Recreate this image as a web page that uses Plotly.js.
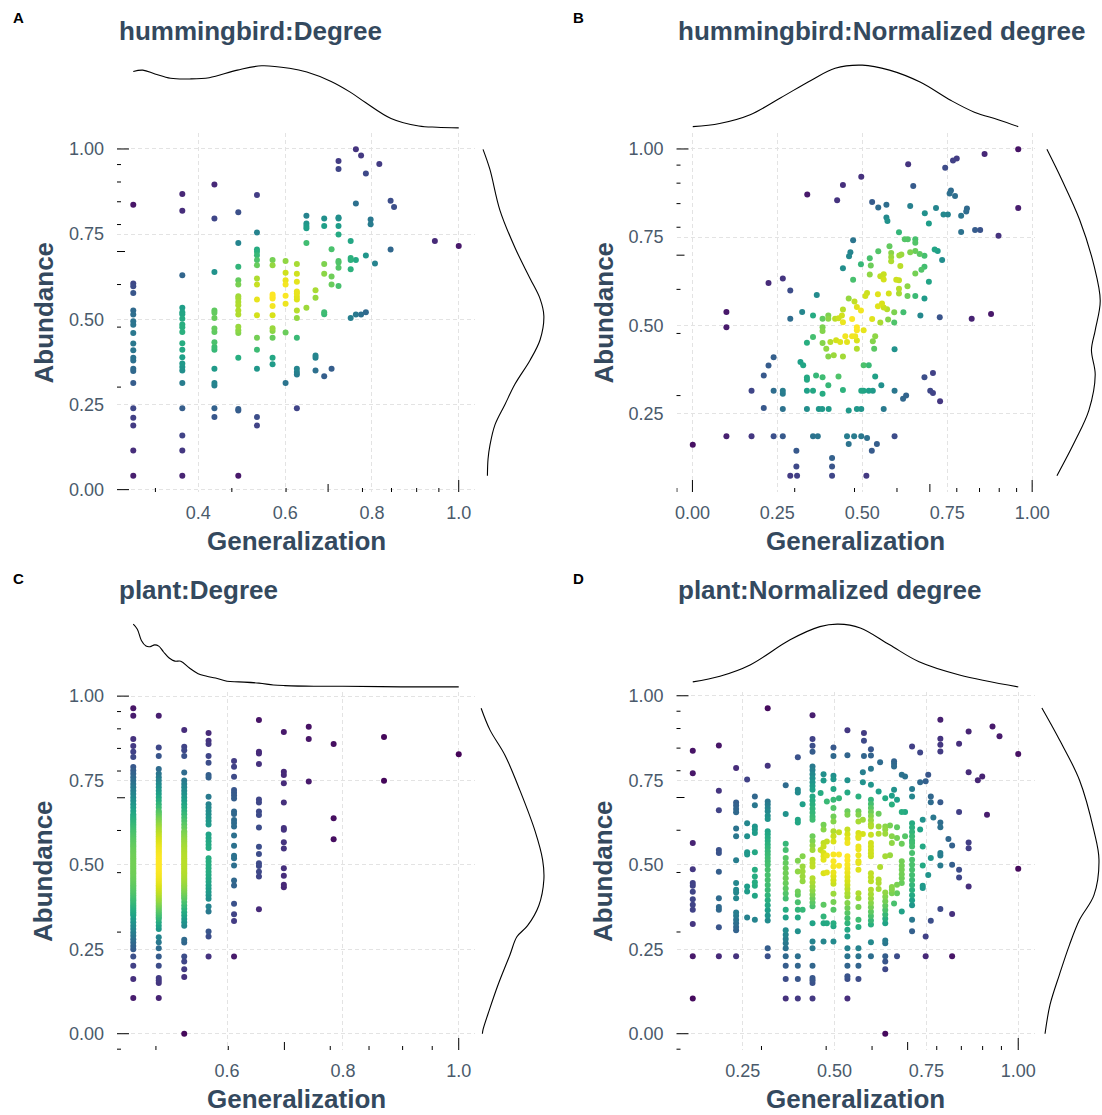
<!DOCTYPE html>
<html><head><meta charset="utf-8">
<script src="https://cdn.plot.ly/plotly-3.0.1.min.js"></script>
<style>body{margin:0;background:#fff;}</style>
</head><body><div id="chart" style="width:1102px;height:1115px;"></div>
<script>
// ---------------- DATA ----------------
// Panel A: hummingbird:Degree (columns of generalization values)
const hbDegX = [0.25,0.363,0.437,0.492,0.535,0.571,0.601,0.627,0.649,0.670,0.690,0.707,0.723,0.751,0.763,0.775,0.786,0.797,0.807,0.817,0.843,0.851,0.945,1.0];
const hbDegY = [
[0.836,0.605,0.597,0.577,0.526,0.514,0.494,0.484,0.46,0.429,0.409,0.387,0.379,0.355,0.348,0.313,0.239,0.211,0.188,0.115,0.041],
[0.868,0.819,0.629,0.534,0.521,0.515,0.502,0.485,0.477,0.463,0.43,0.411,0.389,0.37,0.36,0.35,0.313,0.239,0.159,0.115,0.041],
[0.896,0.796,0.639,0.526,0.519,0.504,0.473,0.463,0.433,0.419,0.411,0.355,0.313,0.306,0.239,0.213],
[0.814,0.724,0.654,0.615,0.602,0.568,0.561,0.551,0.541,0.526,0.514,0.478,0.468,0.46,0.387,0.237,0.232,0.041],
[0.865,0.755,0.705,0.698,0.688,0.674,0.659,0.62,0.602,0.558,0.512,0.446,0.411,0.355,0.213,0.188],
[0.674,0.659,0.573,0.566,0.561,0.539,0.512,0.474,0.466,0.446,0.387,0.368],
[0.671,0.637,0.615,0.602,0.569,0.546,0.461,0.313],
[0.662,0.634,0.61,0.582,0.576,0.566,0.558,0.526,0.504,0.446,0.355,0.345,0.338,0.239],
[0.804,0.781,0.774,0.767,0.724,0.534],
[0.585,0.563,0.394,0.387,0.35],
[0.796,0.774,0.662,0.634,0.521,0.515,0.333],
[0.706,0.626,0.602,0.355],
[0.965,0.941,0.799,0.796,0.774,0.749,0.671,0.667,0.651,0.598],
[0.73,0.68,0.674,0.647,0.504],
[0.999,0.84,0.674,0.514],
[0.981,0.514],
[0.928,0.687,0.521],
[0.793,0.779],
[0.664],
[0.956],
[0.848,0.705],
[0.83],
[0.73],
[0.715]
];

// Panel B: hummingbird:Normalized degree ([generalization, abundance])
const hbNormPts = [
[0.338,0.871],[0.443,0.898],[0.426,0.855],[0.497,0.921],[0.635,0.957],[0.65,0.895],[0.744,0.947],[0.767,0.967],[0.778,0.973],[0.86,0.986],[0.959,0.999],[0.959,0.833],
[0.529,0.85],[0.547,0.834],[0.571,0.842],[0.571,0.806],[0.574,0.796],[0.641,0.838],[0.684,0.818],[0.696,0.789],[0.717,0.833],[0.739,0.814],[0.752,0.814],[0.757,0.874],[0.761,0.882],[0.773,0.867],[0.791,0.811],[0.806,0.823],[0.808,0.831],[0.791,0.765],[0.832,0.77],[0.847,0.77],[0.901,0.754],
[0.608,0.764],[0.625,0.744],[0.634,0.744],[0.656,0.744],[0.656,0.734],[0.473,0.741],[0.465,0.707],[0.461,0.696],[0.443,0.662],[0.58,0.724],[0.547,0.71],[0.585,0.705],[0.585,0.694],[0.585,0.682],[0.609,0.698],[0.615,0.701],[0.641,0.707],[0.656,0.711],[0.669,0.702],[0.683,0.697],[0.713,0.715],[0.722,0.711],[0.735,0.685],[0.522,0.69],[0.525,0.67],[0.496,0.673],[0.612,0.668],
[0.473,0.629],[0.522,0.644],[0.553,0.639],[0.563,0.645],[0.563,0.63],[0.6,0.629],[0.608,0.628],[0.656,0.647],[0.674,0.658],[0.683,0.666],[0.696,0.624],[0.633,0.611],[0.608,0.604],[0.608,0.59],[0.633,0.583],[0.656,0.583],[0.683,0.576],[0.578,0.59],[0.546,0.588],[0.514,0.592],[0.509,0.583],[0.46,0.576],[0.477,0.568],[0.484,0.552],[0.496,0.542],[0.443,0.545],[0.546,0.554],[0.558,0.562],[0.563,0.551],[0.573,0.546],[0.594,0.537],[0.621,0.537],[0.529,0.518],[0.553,0.508],[0.576,0.517],[0.594,0.508],[0.47,0.518],[0.484,0.495],[0.504,0.486],[0.671,0.528],[0.728,0.523],[0.822,0.519],[0.879,0.532],
[0.224,0.62],[0.266,0.633],[0.288,0.599],[0.1,0.538],[0.1,0.495],[0.288,0.519],[0.323,0.538],[0.366,0.586],[0.355,0.528],[0.383,0.519],[0.4,0.528],[0.4,0.519],[0.42,0.519],[0.43,0.52],[0.44,0.528],[0.443,0.509],[0.383,0.495],[0.383,0.484],
[0.239,0.41],[0.224,0.386],[0.21,0.358],[0.174,0.315],[0.239,0.315],[0.266,0.315],[0.266,0.306],[0.21,0.266],[0.266,0.263],[0.318,0.396],[0.326,0.387],[0.337,0.451],[0.337,0.352],[0.337,0.346],[0.337,0.315],[0.355,0.315],[0.337,0.263],[0.355,0.467],[0.364,0.358],[0.372,0.263],[0.382,0.263],[0.401,0.263],[0.383,0.306],[0.383,0.353],[0.394,0.434],[0.4,0.33],[0.406,0.453],[0.423,0.458],[0.435,0.453],[0.4,0.412],[0.416,0.415],[0.443,0.412],[0.43,0.355],[0.443,0.317],[0.45,0.469],[0.455,0.453],[0.46,0.259],[0.383,0.45],
[0.174,0.186],[0.1,0.186],[0.239,0.186],[0.266,0.186],[0.001,0.162],[0.306,0.145],[0.306,0.1],[0.288,0.074],[0.308,0.074],[0.355,0.186],[0.369,0.186],[0.411,0.124],[0.411,0.1],[0.411,0.074],[0.455,0.186],[0.46,0.164],
[0.47,0.469],[0.479,0.469],[0.484,0.486],[0.484,0.457],[0.484,0.434],[0.504,0.387],[0.519,0.387],[0.497,0.315],[0.504,0.315],[0.519,0.315],[0.531,0.315],[0.484,0.263],[0.497,0.263],[0.538,0.355],[0.556,0.33],[0.538,0.469],[0.531,0.455],[0.535,0.434],[0.563,0.263],[0.595,0.315],[0.595,0.432],[0.62,0.292],[0.629,0.301],[0.683,0.353],[0.708,0.365],[0.7,0.315],[0.708,0.308],[0.729,0.285],[0.476,0.186],[0.497,0.186],[0.514,0.181],[0.528,0.145],[0.543,0.164],[0.595,0.186],[0.512,0.074]
];

// Panel C: plant:Degree (columns; dense centres hold many overlapping points)
const plDegX = [0.438,0.482,0.526,0.568,0.612,0.655,0.698,0.741,0.784,0.871,1.0];
const plDegY = [
[0.964,0.942,0.873,0.852,0.835,0.82,0.79,0.78,0.77,0.76,0.75,0.74,0.73,0.72,0.71,0.70,0.69,0.68,0.67,0.66,0.65,0.64,0.63,0.62,0.61,0.60,0.59,0.58,0.57,0.56,0.55,0.54,0.53,0.52,0.51,0.50,0.49,0.48,0.47,0.46,0.45,0.44,0.43,0.42,0.41,0.40,0.39,0.38,0.37,0.36,0.35,0.34,0.33,0.32,0.31,0.30,0.29,0.28,0.27,0.26,0.25,0.229,0.201,0.162,0.106,
 0.355,0.365,0.375,0.385,0.395,0.405,0.415,0.425,0.435,0.445,0.455,0.465,0.475,0.485,0.495,0.505,0.515,0.525,0.535,0.545,0.555,0.565,0.575,0.585,0.595,0.605,0.615,0.625,0.635,0.645],
[0.942,0.848,0.823,0.784,0.77,0.76,0.75,0.74,0.73,0.72,0.71,0.70,0.69,0.68,0.67,0.66,0.65,0.64,0.63,0.62,0.61,0.60,0.59,0.58,0.57,0.56,0.55,0.54,0.53,0.52,0.51,0.50,0.49,0.48,0.47,0.46,0.45,0.44,0.43,0.42,0.41,0.40,0.39,0.38,0.37,0.36,0.35,0.34,0.33,0.32,0.31,0.286,0.271,0.253,0.229,0.201,0.165,0.158,0.15,0.106,
 0.345,0.355,0.365,0.375,0.385,0.395,0.405,0.415,0.425,0.435,0.445,0.455,0.465,0.475,0.485,0.495,0.505,0.515,0.525,0.535,0.545,0.555,0.565,0.575,0.585,0.595,0.605,0.615,0.625,0.635,0.645,0.655],
[0.9,0.85,0.84,0.823,0.774,0.75,0.74,0.73,0.72,0.71,0.70,0.69,0.68,0.67,0.66,0.65,0.64,0.63,0.62,0.61,0.60,0.59,0.58,0.57,0.56,0.55,0.54,0.53,0.52,0.51,0.50,0.49,0.48,0.47,0.46,0.45,0.44,0.43,0.42,0.41,0.40,0.39,0.38,0.37,0.36,0.35,0.34,0.33,0.32,0.278,0.27,0.229,0.214,0.191,0.168,0.0,
 0.405,0.415,0.425,0.435,0.445,0.455,0.465,0.475,0.485,0.495,0.505,0.515,0.525,0.535,0.545,0.555,0.565,0.575,0.585,0.595],
[0.891,0.868,0.858,0.823,0.803,0.766,0.759,0.702,0.68,0.67,0.66,0.65,0.64,0.63,0.62,0.59,0.58,0.57,0.56,0.55,0.52,0.51,0.50,0.49,0.48,0.47,0.46,0.45,0.44,0.43,0.42,0.41,0.40,0.377,0.362,0.303,0.288,0.229],
[0.808,0.791,0.761,0.722,0.714,0.706,0.697,0.658,0.651,0.633,0.624,0.614,0.587,0.557,0.527,0.52,0.498,0.454,0.439,0.385,0.354,0.334,0.229],
[0.929,0.835,0.83,0.799,0.694,0.685,0.658,0.648,0.611,0.554,0.532,0.505,0.497,0.48,0.466,0.369],
[0.894,0.776,0.766,0.742,0.685,0.609,0.604,0.567,0.549,0.49,0.468,0.441,0.434],
[0.909,0.873,0.747],
[0.858,0.638,0.576],
[0.879,0.749],
[0.828]
];

// Panel D: plant:Normalized degree (columns)
const plNormX = [0.114,0.185,0.232,0.262,0.283,0.318,0.367,0.400,0.413,0.440,0.462,0.470,0.479,0.497,0.512,0.535,0.565,0.577,0.580,0.599,0.620,0.624,0.638,0.651,0.656,0.662,0.670,0.683,0.692,0.711,0.733,0.740,0.748,0.755,0.762,0.769,0.788,0.810,0.820,0.839,0.865,0.890,0.902,0.915,0.930,0.949,1.0];
const plNormY = [
[0.837,0.771,0.564,0.487,0.446,0.438,0.42,0.398,0.382,0.367,0.325,0.229,0.104],
[0.853,0.719,0.661,0.544,0.535,0.479,0.401,0.375,0.367,0.315,0.229],
[0.786,0.684,0.675,0.665,0.655,0.607,0.584,0.513,0.446,0.426,0.418,0.401,0.359,0.349,0.337,0.327,0.316,0.306,0.229],
[0.752,0.623,0.584,0.537,0.53,0.436,0.421,0.344],
[0.702,0.676,0.613,0.604,0.594,0.537,0.485,0.465,0.448,0.438,0.408,0.337],
[0.963,0.793,0.687,0.678,0.668,0.658,0.645,0.635,0.599,0.59,0.58,0.57,0.56,0.55,0.54,0.53,0.52,0.51,0.5,0.485,0.47,0.455,0.44,0.425,0.41,0.395,0.38,0.365,0.35,0.335,0.253,0.229],
[0.735,0.65,0.562,0.544,0.52,0.505,0.49,0.475,0.46,0.445,0.43,0.415,0.4,0.367,0.344,0.306,0.293,0.28,0.268,0.253,0.229,0.201,0.162,0.104],
[0.818,0.722,0.714,0.633,0.625,0.512,0.48,0.421,0.411,0.389,0.367,0.344,0.303,0.229,0.201,0.162,0.104],
[0.679,0.525,0.495,0.48,0.465,0.451,0.367],
[0.942,0.872,0.852,0.834,0.791,0.78,0.768,0.756,0.744,0.733,0.722,0.702,0.69,0.678,0.666,0.654,0.642,0.633,0.584,0.57,0.557,0.544,0.515,0.505,0.495,0.46,0.448,0.436,0.424,0.412,0.4,0.388,0.377,0.327,0.273,0.253,0.201,0.165,0.158,0.15,0.104],
[0.712,0.544],
[0.768,0.749,0.618,0.604,0.564,0.554,0.535,0.525,0.515,0.475,0.382,0.347,0.327,0.273],
[0.687,0.569,0.527,0.477,0.327],
[0.847,0.822,0.763,0.753,0.724,0.692,0.668,0.643,0.628,0.599,0.584,0.569,0.53,0.51,0.495,0.477,0.466,0.454,0.444,0.414,0.39,0.367,0.327,0.318,0.273],
[0.697,0.596,0.53,0.497],
[0.898,0.824,0.75,0.714,0.658,0.648,0.604,0.59,0.577,0.564,0.525,0.513,0.5,0.488,0.476,0.464,0.452,0.44,0.428,0.416,0.406,0.387,0.372,0.357,0.342,0.327,0.308,0.288,0.253,0.229,0.201,0.17,0.162,0.104],
[0.702,0.658,0.648,0.628,0.594,0.584,0.579,0.554,0.546,0.528,0.51,0.505,0.485,0.416,0.401,0.375,0.337,0.316,0.253,0.229,0.201,0.162],
[0.774,0.744,0.633,0.591],
[0.89,0.867,0.822],
[0.842,0.823,0.784,0.737,0.692,0.68,0.668,0.656,0.644,0.632,0.62,0.613,0.589,0.564,0.554,0.544,0.534,0.525,0.475,0.463,0.451,0.426,0.413,0.4,0.387,0.374,0.361,0.348,0.335,0.323,0.271,0.229],
[0.717,0.651,0.613,0.592,0.456,0.446,0.428],
[0.803,0.493],
[0.697,0.613,0.604,0.592,0.525,0.418,0.405,0.392,0.379,0.366,0.353,0.34,0.327,0.276,0.268,0.229,0.214,0.191,0.0],
[0.616,0.528],
[0.704,0.678,0.584,0.564,0.434,0.426,0.416],
[0.806,0.799,0.791,0.722,0.385],
[0.692,0.611,0.579,0.441,0.416,0.229],
[0.766,0.656,0.562,0.51,0.497,0.485,0.472,0.46,0.446,0.362],
[0.761,0.656,0.584],
[0.85,0.724,0.702,0.623,0.61,0.597,0.584,0.572,0.564,0.554,0.535,0.515,0.5,0.485,0.47,0.455,0.44,0.425,0.41,0.395,0.38,0.337,0.303],
[0.832,0.744,0.604],
[0.633,0.554,0.498,0.438,0.431],
[0.747,0.288,0.229],
[0.766,0.47],
[0.702,0.685,0.52,0.334],
[0.64],
[0.929,0.873,0.855,0.835,0.685,0.625,0.611,0.535,0.527,0.498,0.369],
[0.576],
[0.557,0.5,0.354,0.229],
[0.858,0.656,0.485,0.462],
[0.894,0.774,0.566,0.549,0.436],
[0.75],
[0.761],
[0.648],
[0.909],
[0.88],
[0.828,0.488]
];

// Marginal density curves (relative to each curve's maximum)
const aTopX = [0.25,0.272,0.3,0.336,0.38,0.425,0.49,0.546,0.61,0.65,0.706,0.75,0.786,0.844,0.908,0.95,1.0];
const aTopD = [0.9,0.92,0.86,0.79,0.78,0.8,0.92,0.99,0.95,0.89,0.74,0.57,0.40,0.15,0.03,0.01,0.0];
const aRightY = [0.999,0.94,0.82,0.71,0.62,0.56,0.51,0.44,0.38,0.31,0.25,0.19,0.13,0.09,0.041];
const aRightD = [0.03,0.14,0.30,0.54,0.78,0.94,1.0,0.94,0.78,0.54,0.38,0.22,0.14,0.11,0.1];
const bTopX = [0.001,0.08,0.17,0.26,0.35,0.42,0.5,0.58,0.67,0.76,0.83,0.9,0.959];
const bTopD = [0.02,0.07,0.21,0.48,0.76,0.95,1.0,0.92,0.73,0.44,0.25,0.13,0.02];
const bRightY = [0.999,0.912,0.8,0.67,0.57,0.486,0.43,0.36,0.26,0.173,0.074];
const bRightD = [0.1,0.34,0.62,0.85,0.95,0.87,0.81,0.87,0.77,0.55,0.26];
const cTopX = [0.438,0.445,0.452,0.46,0.467,0.475,0.482,0.49,0.5,0.51,0.52,0.535,0.55,0.565,0.58,0.6,0.62,0.655,0.68,0.7,0.75,0.8,0.9,1.0];
const cTopD = [1.0,0.92,0.74,0.65,0.64,0.67,0.65,0.56,0.46,0.41,0.41,0.30,0.21,0.17,0.14,0.09,0.08,0.06,0.03,0.02,0.01,0.01,0.0,0.0];
const cRightY = [0.964,0.9,0.825,0.72,0.6,0.515,0.456,0.38,0.32,0.287,0.234,0.145,0.07,0.012,0.0];
const cRightD = [0.0,0.14,0.38,0.62,0.86,0.98,1.0,0.92,0.74,0.57,0.46,0.27,0.13,0.03,0.02];
const dTopX = [0.114,0.188,0.27,0.379,0.46,0.51,0.57,0.65,0.73,0.84,1.0];
const dTopD = [0.08,0.17,0.35,0.75,0.96,1.0,0.94,0.67,0.40,0.19,0.0];
const dRightY = [0.964,0.87,0.75,0.6,0.515,0.41,0.337,0.263,0.175,0.086,0.0];
const dRightD = [0.02,0.3,0.62,0.85,0.93,0.85,0.62,0.46,0.3,0.15,0.07];

// Axis tick labels
const ticksA = {x:[0.4,0.6,0.8,1.0], xt:['0.4','0.6','0.8','1.0'], y:[0,0.25,0.5,0.75,1], yt:['0.00','0.25','0.50','0.75','1.00']};
const ticksB = {x:[0,0.25,0.5,0.75,1], xt:['0.00','0.25','0.50','0.75','1.00'], y:[0.25,0.5,0.75,1], yt:['0.25','0.50','0.75','1.00']};
const ticksC = {x:[0.6,0.8,1.0], xt:['0.6','0.8','1.0'], y:[0,0.25,0.5,0.75,1], yt:['0.00','0.25','0.50','0.75','1.00']};
const ticksD = {x:[0.25,0.5,0.75,1], xt:['0.25','0.50','0.75','1.00'], y:[0,0.25,0.5,0.75,1], yt:['0.00','0.25','0.50','0.75','1.00']};

// ---------------- BUILD ----------------
const W = 1102, H = 1115;
const fx = p => p / W, fy = p => 1 - p / H;
const FONT = 'Liberation Sans, Arial, Helvetica, sans-serif';
const TITLE_C = '#34495e', TICK_C = '#4a5a6b';

function fromCols(xs, cols){ const X=[],Y=[]; xs.forEach((x,i)=>cols[i].forEach(y=>{X.push(x);Y.push(y);})); return [X,Y]; }
function fromPairs(p){ return [p.map(d=>d[0]), p.map(d=>d[1])]; }
function expand(a){ const mn=Math.min(...a), mx=Math.max(...a), s=mx-mn; return [mn-0.05*s, mx+0.05*s]; }
function kde(X,Y,hx,hy){ return X.map((x,i)=>{ let s=0; for(let j=0;j<X.length;j++){ const dx=(x-X[j])/hx, dy=(Y[i]-Y[j])/hy; s+=Math.exp(-0.5*(dx*dx+dy*dy)); } return s; }); }

const [aX,aY] = fromCols(hbDegX, hbDegY);
const [bX,bY] = fromPairs(hbNormPts);
const [cX,cY] = fromCols(plDegX, plDegY);
const [dX,dY] = fromCols(plNormX, plNormY);

const panels = [
 {letter:'A', title:'hummingbird:Degree', X:aX, Y:aY, t:ticksA, col:0, row:0, hx:0.09, hy:0.09, tx:aTopX, td:aTopD, ry:aRightY, rd:aRightD},
 {letter:'B', title:'hummingbird:Normalized degree', X:bX, Y:bY, t:ticksB, col:1, row:0, hx:0.08, hy:0.08, tx:bTopX, td:bTopD, ry:bRightY, rd:bRightD},
 {letter:'C', title:'plant:Degree', X:cX, Y:cY, t:ticksC, col:0, row:1, hx:0.05, hy:0.08, tx:cTopX, td:cTopD, ry:cRightY, rd:cRightD},
 {letter:'D', title:'plant:Normalized degree', X:dX, Y:dY, t:ticksD, col:1, row:1, hx:0.06, hy:0.07, tx:dTopX, td:dTopD, ry:dRightY, rd:dRightD}
];

const colPx = [[117,475],[676.5,1034.5]];
const rowPx = [[133,492],[692,1050]];
const topPx = [[62,131],[621,690]];
const rightPx = [[478,547],[1037.5,1106.5]];
const titleY = [31, 590], letterY = [18, 578], xTitleY = [541, 1099];
const letterX = [18, 578], titleX = [117, 676], yTitleX = [43, 603];

const data = [];
const layout = {width:W, height:H, margin:{l:0,r:0,t:0,b:0}, paper_bgcolor:'#fff', plot_bgcolor:'#fff',
  showlegend:false, shapes:[], annotations:[], font:{family:FONT}};

panels.forEach((p,i)=>{
  const n=i+1, sfx=(n===1?'':String(n));
  const xa='x'+sfx, ya='y'+sfx;
  const cx=colPx[p.col], ry=rowPx[p.row];
  const xr=expand(p.X), yr=expand(p.Y);
  const dens=kde(p.X,p.Y,p.hx,p.hy);
  const mx=Math.max(...dens);
  const idx=dens.map((d,k)=>k).sort((a,b)=>dens[a]-dens[b]);
  data.push({type:'scatter', mode:'markers', x:idx.map(k=>p.X[k]), y:idx.map(k=>p.Y[k]), xaxis:xa, yaxis:ya,
    marker:{size:6, color:idx.map(k=>dens[k]), colorscale:'Viridis', cmin:0, cmax:mx, showscale:false, line:{width:0}}, hoverinfo:'skip'});
  const axBase = {showgrid:true, gridcolor:'#e3e3e3', griddash:'4px,3px', gridwidth:1, zeroline:false, showline:false, ticks:'',
    tickfont:{family:FONT, size:18, color:TICK_C}, tickmode:'array', fixedrange:true};
  layout['xaxis'+sfx] = Object.assign({}, axBase, {domain:[fx(cx[0]),fx(cx[1])], range:xr, anchor:ya, tickvals:p.t.x, ticktext:p.t.xt, ticklabelstandoff:8});
  layout['yaxis'+sfx] = Object.assign({}, axBase, {domain:[fy(ry[1]),fy(ry[0])], range:yr, anchor:xa, tickvals:p.t.y, ticktext:p.t.yt, ticklabelstandoff:12});

  // annotation_logticks (bottom & left)
  const logTicks = r => { const out=[]; for(let e=-2;e<=1;e++) for(let k=1;k<=9;k++){ const v=Math.log10(k*Math.pow(10,e)); if(v>=r[0]&&v<=r[1]) out.push([v, k===1?12:(k===5?8:4)]); } return out; };
  logTicks(yr).forEach(([v,len])=>layout.shapes.push({type:'line', xref:xa+' domain', yref:ya, xsizemode:'pixel', xanchor:0, x0:0, x1:len, y0:v, y1:v, line:{color:'#000', width:1}}));
  logTicks(xr).forEach(([v,len])=>layout.shapes.push({type:'line', yref:ya+' domain', xref:xa, ysizemode:'pixel', yanchor:0, y0:0, y1:len, x0:v, x1:v, line:{color:'#000', width:1}}));

  // top marginal density
  const tn=String(n+4), rn=String(n+8);
  data.push({type:'scatter', mode:'lines', x:p.tx, y:p.td, xaxis:'x'+tn, yaxis:'y'+tn, line:{color:'#000', width:1.1, shape:'spline', smoothing:1}, hoverinfo:'skip'});
  layout['xaxis'+tn] = {domain:[fx(cx[0]),fx(cx[1])], range:xr, anchor:'y'+tn, visible:false, fixedrange:true};
  const tp=topPx[p.row];
  layout['yaxis'+tn] = {domain:[fy(tp[1]),fy(tp[0])], range:[-0.05,1.05], anchor:'x'+tn, visible:false, fixedrange:true};
  // right marginal density
  const rp=rightPx[p.col];
  const r1=Math.min(rp[1],W);
  const perPx=1.1/(rp[1]-rp[0]);
  data.push({type:'scatter', mode:'lines', x:p.rd, y:p.ry, xaxis:'x'+rn, yaxis:'y'+rn, line:{color:'#000', width:1.1, shape:'spline', smoothing:1}, hoverinfo:'skip'});
  layout['xaxis'+rn] = {domain:[fx(rp[0]),fx(r1)], range:[-0.05, -0.05+perPx*(r1-rp[0])], anchor:'y'+rn, visible:false, fixedrange:true};
  layout['yaxis'+rn] = {domain:[fy(ry[1]),fy(ry[0])], range:yr, anchor:'x'+rn, visible:false, fixedrange:true};

  // texts
  const A = layout.annotations;
  A.push({xref:'paper', yref:'paper', x:fx(letterX[p.col]), y:fy(letterY[p.row]), text:'<b>'+p.letter+'</b>', showarrow:false, xanchor:'center', yanchor:'middle', font:{family:FONT, size:15, color:'#000'}});
  A.push({xref:'paper', yref:'paper', x:fx(titleX[p.col]), y:fy(titleY[p.row]), text:'<b>'+p.title+'</b>', showarrow:false, xanchor:'left', yanchor:'middle', font:{family:FONT, size:26, color:TITLE_C}});
  A.push({xref:'paper', yref:'paper', x:fx((cx[0]+cx[1])/2), y:fy(xTitleY[p.row]), text:'<b>Generalization</b>', showarrow:false, xanchor:'center', yanchor:'middle', font:{family:FONT, size:26, color:TITLE_C}});
  A.push({xref:'paper', yref:'paper', x:fx(yTitleX[p.col]), y:fy((ry[0]+ry[1])/2), text:'<b>Abundance</b>', textangle:-90, showarrow:false, xanchor:'center', yanchor:'middle', font:{family:FONT, size:26, color:TITLE_C}});
});

Plotly.newPlot('chart', data, layout, {displayModeBar:false, staticPlot:true});
</script></body></html>
